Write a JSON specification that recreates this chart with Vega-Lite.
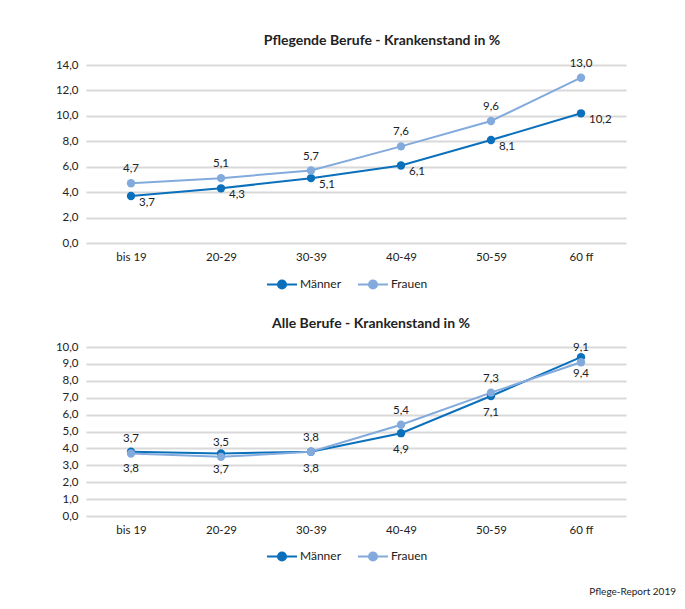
{
  "$schema": "https://vega.github.io/schema/vega-lite/v6.json",
  "background": "white",
  "padding": {"left": 55, "top": 33, "right": 10, "bottom": 8},
  "config": {
    "locale": {"number": {"decimal": ",", "thousands": ".", "grouping": [3], "currency": ["", " €"]}},
    "font": "Lato",
    "view": {"stroke": null},
    "axis": {"labelFont": "Lato", "labelFontSize": 11.5, "labelColor": "#222", "title": null, "domain": false, "ticks": false},
    "title": {"font": "Lato", "fontSize": 14, "fontWeight": "bold", "color": "#222"}
  },
  "datasets": {
    "pflege": [
      {"Alter": "bis 19", "Geschlecht": "Männer", "Wert": 3.7},
      {"Alter": "20-29", "Geschlecht": "Männer", "Wert": 4.3},
      {"Alter": "30-39", "Geschlecht": "Männer", "Wert": 5.1},
      {"Alter": "40-49", "Geschlecht": "Männer", "Wert": 6.1},
      {"Alter": "50-59", "Geschlecht": "Männer", "Wert": 8.1},
      {"Alter": "60 ff", "Geschlecht": "Männer", "Wert": 10.2},
      {"Alter": "bis 19", "Geschlecht": "Frauen", "Wert": 4.7},
      {"Alter": "20-29", "Geschlecht": "Frauen", "Wert": 5.1},
      {"Alter": "30-39", "Geschlecht": "Frauen", "Wert": 5.7},
      {"Alter": "40-49", "Geschlecht": "Frauen", "Wert": 7.6},
      {"Alter": "50-59", "Geschlecht": "Frauen", "Wert": 9.6},
      {"Alter": "60 ff", "Geschlecht": "Frauen", "Wert": 13.0}
    ],
    "alle": [
      {"Alter": "bis 19", "Geschlecht": "Männer", "Wert": 3.8},
      {"Alter": "20-29", "Geschlecht": "Männer", "Wert": 3.7},
      {"Alter": "30-39", "Geschlecht": "Männer", "Wert": 3.8},
      {"Alter": "40-49", "Geschlecht": "Männer", "Wert": 4.9},
      {"Alter": "50-59", "Geschlecht": "Männer", "Wert": 7.1},
      {"Alter": "60 ff", "Geschlecht": "Männer", "Wert": 9.4},
      {"Alter": "bis 19", "Geschlecht": "Frauen", "Wert": 3.7},
      {"Alter": "20-29", "Geschlecht": "Frauen", "Wert": 3.5},
      {"Alter": "30-39", "Geschlecht": "Frauen", "Wert": 3.8},
      {"Alter": "40-49", "Geschlecht": "Frauen", "Wert": 5.4},
      {"Alter": "50-59", "Geschlecht": "Frauen", "Wert": 7.3},
      {"Alter": "60 ff", "Geschlecht": "Frauen", "Wert": 9.1}
    ]
  },
  "title": {"text": "Pflege-Report 2019", "orient": "bottom", "anchor": "end", "fontSize": 10, "fontWeight": "normal", "dx": 50, "offset": 22},
  "vconcat": [
    {
      "width": 540,
      "height": 178,
      "data": {"name": "pflege"},
      "title": {"text": "Pflegende Berufe - Krankenstand in %", "dx": 26, "offset": 10},
      "encoding": {
        "x": {"field": "Alter", "type": "ordinal", "sort": null, "scale": {"type": "point", "padding": 0.5},
          "axis": {"labelAngle": 0, "grid": false, "labelPadding": 8}},
        "y": {"field": "Wert", "type": "quantitative", "scale": {"domain": [0, 14]},
          "axis": {"values": [0, 2, 4, 6, 8, 10, 12, 14], "format": ".1f", "gridColor": "#d9d9d9", "gridWidth": 2, "labelPadding": 8}},
        "color": {"field": "Geschlecht", "type": "nominal", "sort": ["Männer", "Frauen"],
          "scale": {"domain": ["Männer", "Frauen"], "range": ["#0b70bb", "#82aadd"]},
          "legend": {"orient": "none", "legendX": 180, "legendY": 203, "direction": "horizontal", "title": null, "symbolType": "M-1,0H1M0.27,0A0.27,0.27,0,1,1,-0.27,0A0.27,0.27,0,1,1,0.27,0", "symbolSize": 900, "symbolStrokeWidth": 2, "labelFont": "Lato", "labelFontSize": 12, "labelColor": "#222", "labelOffset": 2, "columnPadding": 12}}
      },
      "layer": [
        {"mark": {"type": "line", "strokeWidth": 2}},
        {"mark": {"type": "point", "filled": true, "size": 70, "opacity": 1}},
        {"transform": [{"filter": "datum.Geschlecht === 'Männer'"}],
          "mark": {"type": "text", "align": "left", "dx": 8, "dy": 7, "fontSize": 11.5, "color": "#222"},
          "encoding": {"text": {"field": "Wert", "type": "quantitative", "format": ".1f"}, "color": {"value": "#222"}}},
        {"transform": [{"filter": "datum.Geschlecht === 'Frauen'"}],
          "mark": {"type": "text", "align": "center", "dy": -14, "fontSize": 11.5, "color": "#222"},
          "encoding": {"text": {"field": "Wert", "type": "quantitative", "format": ".1f"}, "color": {"value": "#222"}}}
      ]
    },
    {
      "width": 540,
      "height": 169,
      "data": {"name": "alle"},
      "title": {"text": "Alle Berufe - Krankenstand in %", "dx": 15, "offset": 10},
      "encoding": {
        "x": {"field": "Alter", "type": "ordinal", "sort": null, "scale": {"type": "point", "padding": 0.5},
          "axis": {"labelAngle": 0, "grid": false, "labelPadding": 8}},
        "y": {"field": "Wert", "type": "quantitative", "scale": {"domain": [0, 10]},
          "axis": {"values": [0, 1, 2, 3, 4, 5, 6, 7, 8, 9, 10], "format": ".1f", "gridColor": "#d9d9d9", "gridWidth": 2, "labelPadding": 8}},
        "color": {"field": "Geschlecht", "type": "nominal", "sort": ["Männer", "Frauen"],
          "scale": {"domain": ["Männer", "Frauen"], "range": ["#0b70bb", "#82aadd"]},
          "legend": {"orient": "none", "legendX": 180, "legendY": 193, "direction": "horizontal", "title": null, "symbolType": "M-1,0H1M0.27,0A0.27,0.27,0,1,1,-0.27,0A0.27,0.27,0,1,1,0.27,0", "symbolSize": 900, "symbolStrokeWidth": 2, "labelFont": "Lato", "labelFontSize": 12, "labelColor": "#222", "labelOffset": 2, "columnPadding": 12}}
      },
      "layer": [
        {"mark": {"type": "line", "strokeWidth": 2}},
        {"mark": {"type": "point", "filled": true, "size": 70, "opacity": 1}},
        {"transform": [{"filter": "datum.Geschlecht === 'Männer'"}],
          "mark": {"type": "text", "align": "center", "dy": 17, "fontSize": 11.5, "color": "#222"},
          "encoding": {"text": {"field": "Wert", "type": "quantitative", "format": ".1f"}, "color": {"value": "#222"}}},
        {"transform": [{"filter": "datum.Geschlecht === 'Frauen'"}],
          "mark": {"type": "text", "align": "center", "dy": -14, "fontSize": 11.5, "color": "#222"},
          "encoding": {"text": {"field": "Wert", "type": "quantitative", "format": ".1f"}, "color": {"value": "#222"}}}
      ]
    }
  ],
  "resolve": {"legend": {"color": "independent"}},
  "spacing": 24
}
